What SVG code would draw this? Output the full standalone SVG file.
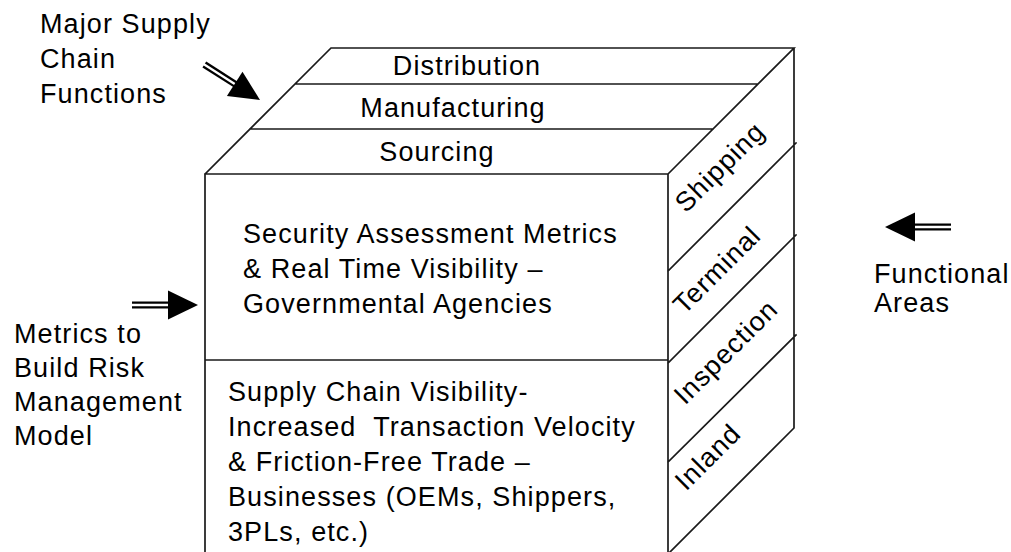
<svg xmlns="http://www.w3.org/2000/svg" xmlns:xlink="http://www.w3.org/1999/xlink" width="1011" height="552" viewBox="0 0 1011 552">
<style>
.t{font-family:"Liberation Sans",Arial,sans-serif;font-size:27px;fill:#000;letter-spacing:1.1px;white-space:pre}
.m{text-anchor:middle}
.ln{stroke:#1a1a1a;stroke-width:1.7;fill:none;stroke-linecap:square}
</style>
<defs>
<g id="arr">
<line x1="-66" y1="0" x2="-29" y2="0" stroke="#000" stroke-width="7"/>
<line x1="-67" y1="0" x2="-29" y2="0" stroke="#fff" stroke-width="2.4"/>
<polygon points="-30,-14.5 0,0 -30,14.5" fill="#000"/>
</g>
</defs>
<rect width="1011" height="552" fill="#fff"/>
<g id="connectors">
<use xlink:href="#arr" transform="translate(260,100) rotate(32.5)"/>
<use xlink:href="#arr" transform="translate(198,305)"/>
<use xlink:href="#arr" transform="translate(885,227) rotate(180)"/>
</g>
<g id="cube">
<path class="ln" d="M205,552 V174 H668 V552 M205,360 H668 M205,174 L331,48 H794 L668,174 M296,84 H757 M250,129 H713 M794,48 V428 L668,554 M668,271 L796,143 M668,363 L796,235 M668,462 L796,335"/>
</g>
<g id="top-faces">
<text class="t m" x="467" y="75">Distribution</text>
<text class="t m" x="453" y="117">Manufacturing</text>
<text class="t m" x="437" y="161">Sourcing</text>
</g>
<g id="side-faces">
<text class="t m" x="720" y="176" transform="rotate(-45 720 167)">Shipping</text>
<text class="t m" x="717" y="279" transform="rotate(-45 717 270)">Terminal</text>
<text class="t m" x="726" y="361" transform="rotate(-45 726 352)">Inspection</text>
<text class="t m" x="708" y="466" transform="rotate(-45 708 457)">Inland</text>
</g>
<g id="front-top">
<text class="t" x="243" y="243">Security Assessment Metrics</text>
<text class="t" x="243" y="278">&amp; Real Time Visibility –</text>
<text class="t" x="243" y="313">Governmental Agencies</text>
</g>
<g id="front-bottom">
<text class="t" x="228" y="401">Supply Chain Visibility-</text>
<text class="t" x="228" y="436">Increased  Transaction Velocity</text>
<text class="t" x="228" y="471">&amp; Friction-Free Trade –</text>
<text class="t" x="228" y="506">Businesses (OEMs, Shippers,</text>
<text class="t" x="228" y="541">3PLs, etc.)</text>
</g>
<g id="label-major">
<text class="t" x="40" y="33">Major Supply</text>
<text class="t" x="40" y="68">Chain</text>
<text class="t" x="40" y="103">Functions</text>
</g>
<g id="label-metrics">
<text class="t" x="14" y="343">Metrics to</text>
<text class="t" x="14" y="377">Build Risk</text>
<text class="t" x="14" y="411">Management</text>
<text class="t" x="14" y="445">Model</text>
</g>
<g id="label-functional">
<text class="t" x="874" y="283">Functional</text>
<text class="t" x="874" y="312">Areas</text>
</g>
</svg>
